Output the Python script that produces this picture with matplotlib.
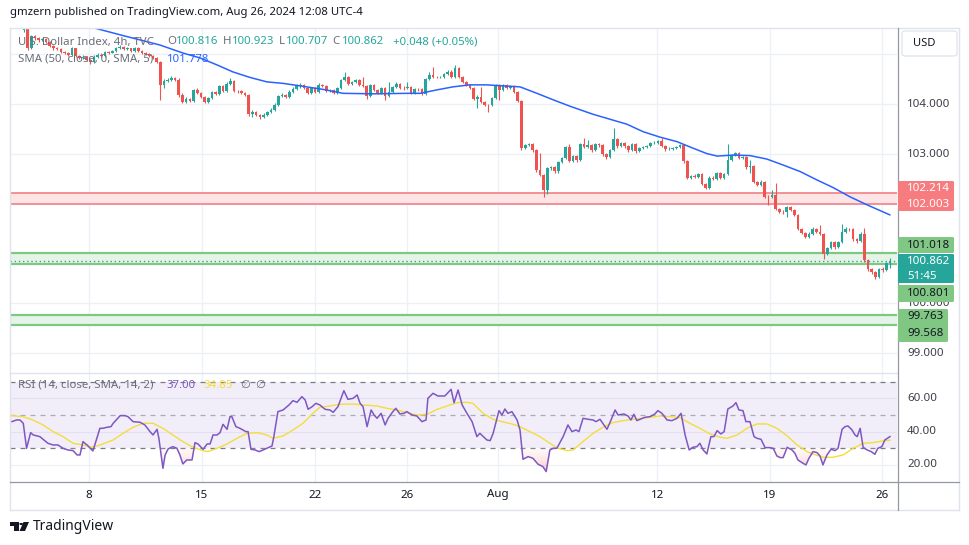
import numpy as np
import matplotlib
matplotlib.use("Agg")
import matplotlib.pyplot as plt
from matplotlib.patches import FancyBboxPatch, Polygon, Circle, Rectangle
from matplotlib.transforms import blended_transform_factory
from matplotlib.colors import LinearSegmentedColormap
from matplotlib.path import Path

W, H = 970, 545
plt.rcParams['font.family'] = ['Noto Sans', 'DejaVu Sans']

# ---------------- data ----------------
first_open = 105.49
closes = [
    105.53, 105.13, 105.37, 105.33, 105.29, 105.31, 105.25, 105.17, 105.13, 105.12, 105.05, 105.03,
    104.99, 105.13, 104.97, 104.93, 104.95, 104.89, 104.85, 104.95, 104.99, 104.97, 105.05, 105.04,
    105.07, 105.13, 105.15, 105.11, 105.13, 105.07, 105.13, 105.07, 105.03, 105.01, 104.97, 104.93,
    104.85, 104.39, 104.47, 104.49, 104.53, 104.49, 104.19, 104.05, 104.11, 104.07, 104.29, 104.23,
    104.15, 104.05, 104.13, 104.25, 104.21, 104.37, 104.27, 104.41, 104.47, 104.27, 104.26, 104.23,
    104.19, 103.81, 103.85, 103.79, 103.74, 103.79, 103.85, 103.89, 103.99, 104.17, 104.19, 104.15,
    104.25, 104.31, 104.37, 104.39, 104.33, 104.23, 104.33, 104.25, 104.39, 104.37, 104.27, 104.29,
    104.23, 104.33, 104.49, 104.55, 104.41, 104.45, 104.49, 104.39, 104.37, 104.17, 104.39, 104.29,
    104.23, 104.33, 104.17, 104.25, 104.35, 104.41, 104.33, 104.32, 104.35, 104.23, 104.31, 104.30,
    104.21, 104.51, 104.59, 104.55, 104.54, 104.55, 104.61, 104.65, 104.55, 104.73, 104.55, 104.45,
    104.39, 104.33, 104.11, 104.15, 104.05, 103.99, 103.98, 104.13, 104.39, 104.29, 104.39, 104.33,
    104.37, 104.25, 104.07, 103.12, 103.18, 103.20, 103.08, 102.68, 102.58, 102.28, 102.72, 102.74,
    102.66, 102.84, 102.92, 103.14, 102.86, 102.96, 102.88, 103.20, 103.14, 103.18, 103.08, 103.20,
    103.18, 103.00, 102.94, 103.08, 103.30, 103.16, 103.22, 103.16, 103.08, 103.20, 103.06, 103.12,
    103.14, 103.16, 103.22, 103.23, 103.26, 103.16, 103.10, 103.11, 103.12, 103.14, 103.18, 102.86,
    102.52, 102.56, 102.54, 102.60, 102.40, 102.32, 102.52, 102.50, 102.62, 102.52, 102.60, 102.88,
    102.98, 103.02, 102.92, 102.94, 102.74, 102.76, 102.44, 102.38, 102.44, 102.14, 102.13, 102.18,
    101.90, 101.84, 101.83, 101.94, 101.88, 101.78, 101.50, 101.42, 101.34, 101.40, 101.50, 101.44,
    101.40, 100.99, 101.11, 101.23, 101.13, 101.23, 101.44, 101.50, 101.49, 101.29, 101.25, 101.40,
    100.87, 100.69, 100.63, 100.53, 100.69, 100.67, 100.816, 100.862]
highs = [
    105.56, 105.55, 105.40, 105.39, 105.36, 105.34, 105.33, 105.27, 105.19, 105.15, 105.14, 105.08,
    105.05, 105.16, 105.14, 104.99, 104.98, 104.97, 104.91, 104.98, 105.03, 105.02, 105.08, 105.08,
    105.10, 105.16, 105.19, 105.17, 105.15, 105.14, 105.16, 105.15, 105.09, 105.05, 105.03, 104.99,
    104.95, 104.87, 104.50, 104.53, 104.57, 104.55, 104.52, 104.22, 104.14, 104.13, 104.31, 104.32,
    104.25, 104.17, 104.15, 104.27, 104.27, 104.39, 104.39, 104.44, 104.53, 104.49, 104.29, 104.28,
    104.25, 104.21, 103.88, 103.87, 103.81, 103.82, 103.87, 103.92, 104.02, 104.19, 104.23, 104.21,
    104.28, 104.34, 104.40, 104.43, 104.41, 104.35, 104.35, 104.35, 104.42, 104.41, 104.39, 104.31,
    104.31, 104.35, 104.51, 104.65, 104.57, 104.47, 104.51, 104.51, 104.55, 104.39, 104.41, 104.41,
    104.31, 104.35, 104.35, 104.45, 104.37, 104.44, 104.43, 104.36, 104.45, 104.37, 104.33, 104.33,
    104.32, 104.53, 104.65, 104.75, 104.57, 104.57, 104.63, 104.68, 104.69, 104.79, 104.75, 104.57,
    104.47, 104.41, 104.35, 104.18, 104.35, 104.07, 104.01, 104.15, 104.41, 104.41, 104.41, 104.41,
    104.39, 104.39, 104.27, 104.09, 103.21, 103.23, 103.22, 103.10, 103.02, 102.60, 102.74, 102.77,
    102.76, 102.86, 102.95, 103.16, 103.20, 102.99, 102.98, 103.23, 103.32, 103.28, 103.20, 103.22,
    103.23, 103.20, 103.02, 103.10, 103.52, 103.32, 103.25, 103.24, 103.18, 103.22, 103.22, 103.15,
    103.17, 103.18, 103.24, 103.26, 103.29, 103.32, 103.18, 103.14, 103.15, 103.17, 103.21, 103.20,
    102.88, 102.59, 102.60, 102.63, 102.62, 102.42, 102.55, 102.55, 102.65, 102.64, 102.63, 103.20,
    103.01, 103.05, 103.04, 102.97, 102.96, 102.88, 102.78, 102.46, 102.47, 102.46, 102.17, 102.28,
    102.42, 101.92, 101.87, 101.96, 101.96, 101.90, 101.80, 101.52, 101.44, 101.43, 101.53, 101.52,
    101.58, 101.42, 101.14, 101.26, 101.25, 101.26, 101.60, 101.53, 101.52, 101.51, 101.31, 101.43,
    101.52, 100.89, 100.71, 100.65, 100.72, 100.74, 100.84, 100.923]
lows = [
    105.46, 105.09, 105.11, 105.30, 105.26, 105.27, 105.23, 105.15, 105.10, 105.09, 105.03, 105.00,
    104.96, 104.97, 104.94, 104.90, 104.91, 104.86, 104.81, 104.83, 104.93, 104.94, 104.95, 105.01,
    105.02, 105.05, 105.11, 105.09, 105.09, 105.05, 105.05, 105.05, 105.01, 104.98, 104.95, 104.90,
    104.82, 104.09, 104.33, 104.44, 104.46, 104.46, 104.15, 104.02, 104.02, 104.04, 104.04, 104.21,
    104.12, 104.02, 104.03, 104.11, 104.18, 104.19, 104.25, 104.25, 104.39, 104.24, 104.23, 104.21,
    104.16, 103.76, 103.74, 103.76, 103.70, 103.72, 103.77, 103.83, 103.87, 103.97, 104.14, 104.12,
    104.13, 104.23, 104.29, 104.33, 104.31, 104.20, 104.21, 104.22, 104.23, 104.35, 104.25, 104.25,
    104.21, 104.21, 104.31, 104.47, 104.39, 104.39, 104.43, 104.37, 104.35, 104.11, 104.15, 104.27,
    104.21, 104.21, 104.09, 104.15, 104.23, 104.33, 104.31, 104.29, 104.30, 104.21, 104.21, 104.27,
    104.19, 104.19, 104.49, 104.53, 104.52, 104.53, 104.53, 104.59, 104.53, 104.53, 104.53, 104.43,
    104.37, 104.31, 104.08, 103.93, 104.03, 103.96, 103.85, 103.96, 104.11, 104.09, 104.27, 104.31,
    104.31, 104.23, 104.04, 103.09, 103.10, 103.16, 103.05, 102.65, 102.55, 102.14, 102.20, 102.69,
    102.63, 102.62, 102.82, 102.90, 102.84, 102.84, 102.85, 102.86, 103.12, 103.12, 103.05, 103.06,
    103.15, 102.97, 102.91, 102.92, 103.06, 103.13, 103.14, 103.13, 103.05, 103.06, 103.03, 103.04,
    103.10, 103.12, 103.14, 103.20, 103.21, 103.14, 103.07, 103.08, 103.09, 103.10, 103.12, 102.83,
    102.49, 102.49, 102.51, 102.52, 102.37, 102.29, 102.30, 102.47, 102.48, 102.49, 102.50, 102.58,
    102.86, 102.96, 102.90, 102.90, 102.71, 102.62, 102.41, 102.35, 102.36, 102.11, 101.98, 102.11,
    101.87, 101.81, 101.80, 101.74, 101.85, 101.75, 101.47, 101.39, 101.31, 101.32, 101.38, 101.41,
    101.37, 100.89, 100.97, 101.09, 101.10, 101.11, 101.21, 101.42, 101.46, 101.26, 101.22, 101.23,
    100.84, 100.66, 100.60, 100.50, 100.51, 100.64, 100.65, 100.707]

# SMA(50) read at sample bars
sma_idx = [17.1, 27.4, 36.9, 43.1, 47.8, 52.4, 56.7, 61.3, 65.9, 70.3, 74.9, 81.1, 86.6, 94.7,
           103.9, 107.5, 112.1, 116.4, 121.0, 125.6, 130.0, 134.6, 139.2, 143.6, 148.2, 154.4,
           159.0, 163.6, 168.0, 172.6, 177.2, 181.5, 185.3, 188.1, 192.4, 197.0, 201.6, 206.0,
           210.6, 215.2, 219.5, 224.2, 228.8, 235.0]
sma_val = [105.57, 105.37, 105.19, 105.03, 104.93, 104.79, 104.65, 104.54, 104.45, 104.42, 104.37,
           104.30, 104.22, 104.21, 104.22, 104.22, 104.29, 104.35, 104.39, 104.39, 104.37, 104.35,
           104.22, 104.09, 103.96, 103.80, 103.70, 103.60, 103.45, 103.34, 103.25, 103.12, 103.01,
           102.96, 102.98, 102.97, 102.90, 102.78, 102.65, 102.48, 102.33, 102.14, 101.98, 101.778]

# RSI(14) read at sample bars
rsi_idx = [-3.3, -2.0, -1.1, -0.2, 0.7, 1.8, 2.5, 4.3, 6.5, 7.9,
           9.2, 10.6, 11.9, 13.3, 14.4, 15.2, 16.0, 17.1, 18.7, 20.6,
           21.4, 22.5, 23.6, 24.2, 26.1, 27.4, 28.2, 29.6, 31.5, 32.8,
           34.2, 35.0, 36.1, 36.6, 37.7, 38.3, 39.1, 40.4, 41.5, 42.3,
           43.1, 44.2, 45.6, 46.4, 47.2, 48.6, 49.7, 50.5, 51.3, 52.4,
           53.2, 54.0, 55.1, 55.9, 56.4, 57.5, 58.6, 60.2, 60.8, 61.6,
           62.7, 63.8, 64.9, 66.5, 67.3, 67.8, 68.9, 70.3, 71.9, 73.0,
           74.1, 75.4, 76.3, 77.1, 78.2, 79.2, 80.3, 81.7, 83.0, 83.9,
           85.2, 86.8, 87.9, 89.3, 90.4, 91.2, 92.0, 93.1, 94.2, 95.0,
           95.8, 96.9, 98.0, 98.8, 100.1, 100.9, 102.0, 103.1, 103.9, 105.3,
           106.6, 108.0, 109.1, 109.6, 111.0, 112.3, 114.2, 115.9, 116.7, 117.8,
           118.9, 120.2, 121.6, 122.9, 123.7, 125.6, 126.5, 127.3, 128.9, 129.7,
           130.5, 131.3, 132.4, 133.8, 134.6, 135.4, 136.8, 138.1, 139.5, 140.8,
           141.7, 142.7, 143.6, 144.6, 146.3, 147.6, 148.7, 149.8, 150.6, 151.7,
           153.1, 154.4, 155.2, 156.3, 158.2, 159.3, 160.4, 161.2, 162.8, 163.9,
           164.7, 165.5, 166.3, 167.2, 168.5, 169.9, 171.2, 172.0, 173.1, 174.5,
           175.8, 177.2, 178.3, 179.4, 180.5, 181.5, 182.6, 183.4, 184.3, 185.3,
           186.4, 187.2, 188.1, 189.1, 190.0, 191.0, 192.4, 193.2, 194.0, 195.1,
           195.9, 197.0, 198.1, 198.9, 200.0, 201.1, 202.4, 203.3, 204.3, 205.2,
           206.0, 207.1, 208.4, 209.2, 210.0, 211.4, 212.2, 213.0, 214.1, 215.2,
           216.0, 216.8, 217.9, 219.0, 220.1, 220.9, 222.0, 222.8, 223.6, 224.7,
           225.5, 226.1, 226.9, 227.7, 228.8, 229.9, 230.9, 231.7, 232.8, 233.6,
           235.0]
rsi_val = [46, 47, 47, 45, 30, 39.4, 38, 37, 33, 32,
           32, 30, 29, 28.6, 26, 26, 34, 32, 28.4, 42,
           42, 42.6, 43, 45, 49.6, 49.6, 49, 46, 45.6, 44,
           40, 38, 41.4, 36, 18, 26, 29.6, 31, 30, 26,
           20.6, 23, 23, 33.4, 32.6, 29.4, 32.6, 32.6, 38, 38,
           39.4, 44.4, 41.4, 49, 49, 43, 42, 40, 40, 29.4,
           29, 28, 29, 30.6, 31.4, 37, 52, 53, 56, 58.6,
           57.6, 61, 59, 53.4, 55, 57, 56, 53.4, 53, 51.6,
           55, 64.6, 59.4, 60, 62, 57, 55, 43, 53, 50,
           48, 51, 44, 48, 52, 54, 50.6, 51, 52, 50,
           49.4, 46, 47, 60, 63, 61.4, 61.4, 65.4, 57.4, 65,
           56, 51, 46, 37, 39, 35, 34.6, 39, 52.6, 50,
           53.6, 51, 52, 47, 41, 23.4, 25, 24, 20.4, 19,
           16, 29, 30, 30, 37, 44, 40, 41, 40, 48,
           47.4, 47, 46, 47.4, 41.4, 47, 53, 50, 50.6, 49.4,
           47, 50.4, 46.6, 47.4, 48.6, 49, 50.6, 52.6, 51, 47,
           46.6, 48, 51, 38, 29, 30.6, 31, 33, 29, 26.6,
           37, 37, 40.6, 38.6, 40, 53.6, 55.4, 57.4, 53, 52.6,
           46, 46, 37, 36, 35.4, 30.4, 30.4, 30, 25.4, 24.4,
           24.4, 30.6, 29, 27, 23, 21, 20, 24, 28, 27.4,
           25.4, 20, 26, 29.4, 28.6, 30, 41.4, 43, 43.4, 41,
           38, 37, 42, 30.6, 29, 28, 26.4, 30, 31, 35,
           37.0]
# RSI-based MA(14)
rsima_idx = [-3.3, -0.3, 2.4, 5.2, 7.9, 10.6, 13.3, 16.0, 18.7, 21.4,
             24.2, 26.9, 29.6, 32.3, 35.0, 37.7, 40.4, 43.1, 45.9, 48.6,
             49.9, 52.4, 55.1, 57.8, 60.5, 63.2, 65.9, 67.6, 70.3, 73.0,
             75.7, 78.4, 80.3, 83.0, 85.8, 89.3, 92.0, 95.8, 98.5, 101.2,
             103.9, 106.6, 109.4, 112.1, 114.8, 117.5, 120.2, 121.8, 124.6, 127.3,
             129.7, 132.4, 134.6, 137.3, 140.0, 142.7, 144.9, 147.4, 149.0, 151.7,
             154.4, 157.1, 159.8, 162.6, 165.3, 169.9, 172.6, 175.3, 178.0, 180.7,
             183.4, 186.2, 188.9, 190.8, 193.5, 196.2, 198.9, 201.6, 204.3, 207.1,
             209.8, 212.5, 214.1, 216.8, 219.5, 222.3, 225.0, 227.7, 230.4, 233.1,
             235.0]
rsima_val = [49.6, 49, 47, 44, 40, 37, 33, 32, 30.6, 32.6,
             35, 39, 42.6, 45, 45, 42, 38, 34, 30.6, 28.6,
             28, 30, 32.6, 36, 39, 39.4, 38, 36, 37.4, 41,
             45, 51, 54.6, 55.4, 56.4, 56.6, 56, 55.4, 54, 53,
             51.4, 50, 50.4, 53.4, 55.4, 57.4, 57.6, 57, 51, 47.4,
             46, 44.6, 43, 40, 37, 33, 30, 28.6, 29, 34,
             39, 42.6, 45.4, 46.6, 47.4, 48.6, 49.4, 49, 48.4, 45,
             42, 38.6, 36.6, 36, 38, 42, 44.6, 44.6, 42, 37.4,
             32, 28, 26.6, 24.6, 24.6, 26, 30, 33, 33.4, 34.4,
             34.85]

date_ticks = [17.6, 48.3, 79.0, 103.9, 128.6, 171.8, 202.4, 232.8]
date_labels = ['8', '15', '22', '26', 'Aug', '12', '19', '26']
price_grid = [99, 100, 101, 102, 103, 104, 105]
price_labels = [104, 103, 100, 99]
rsi_labels = [60, 40, 20]
zone_red = (102.003, 102.214)
zone_green1 = (100.801, 101.018)
zone_green2 = (99.568, 99.763)
last_price = 100.862

# ---------------- styling ----------------
UP, DN = '#26A69A', '#EF5350'
GRID = '#EEF0F5'
TXT = '#131722'
AXT = '#3B3E48'
GREY = '#6A6D78'

fig = plt.figure(figsize=(W / 100, H / 100), dpi=100)
fig.patch.set_facecolor('white')


def rect(x0, y0, x1, y1):
    return [x0 / W, 1 - y1 / H, (x1 - x0) / W, (y1 - y0) / H]


def ptext(x, y, s, **kw):
    kw.setdefault('va', 'center')
    kw.setdefault('fontsize', 8)
    return fig.text(x / W, 1 - y / H, s, **kw)


def pbox(x0, y0, x1, y1, fc, ec='none', z=5, lw=0, r=0.002):
    p = FancyBboxPatch((x0 / W, 1 - y1 / H), (x1 - x0) / W, (y1 - y0) / H,
                       boxstyle=f'round,pad=0,rounding_size={r}', transform=fig.transFigure,
                       fc=fc, ec=ec, lw=lw, zorder=z)
    fig.add_artist(p)
    return p


def pline(x0, y0, x1, y1, color, lw=1, z=2):
    fig.add_artist(plt.Line2D([x0 / W, x1 / W], [1 - y0 / H, 1 - y1 / H], color=color, lw=lw,
                              transform=fig.transFigure, zorder=z))


ax = fig.add_axes(rect(10, 28, 897, 373))
ax2 = fig.add_axes(rect(10, 373, 897, 482))
XL = (-3.8, 236.9)
for a in (ax, ax2):
    a.set_xlim(*XL)
    a.axis('off')
ax.set_ylim(98.604, 105.532)
ax2.set_ylim(9.76, 75.2)

# grid
for p in price_grid:
    ax.axhline(p, color=GRID, lw=1, zorder=0)
for t in date_ticks:
    ax.axvline(t, color=GRID, lw=1, zorder=0)
    ax2.axvline(t, color=GRID, lw=1, zorder=0.5)

# zones
ax.axhspan(*zone_red, color='#FDE4E5', lw=0, zorder=1)
for v in zone_red:
    ax.axhline(v, color='#F28A8E', lw=1.3, zorder=1.5)
for z in (zone_green1, zone_green2):
    ax.axhspan(*z, color='#E6F4E7', lw=0, zorder=1)
    for v in z:
        ax.axhline(v, color='#81C784', lw=1.6, zorder=1.5)
ax.axhline(last_price, color=UP, lw=1, ls=(0, (1, 2)), zorder=1.6)

# candles
c = np.array(closes)
o = np.r_[first_open, c[:-1]]
hi = np.array(highs)
lo = np.array(lows)
idx = np.arange(len(c))
cols = np.where(c >= o, UP, DN)
ax.vlines(idx, lo, hi, colors=cols, lw=0.8, zorder=3)
ax.bar(idx, np.maximum(np.abs(c - o), 0.008), bottom=np.minimum(o, c), width=0.72,
       color=cols, linewidth=0, zorder=4)

# SMA
ax.plot(sma_idx, sma_val, color='#2962FF', lw=1.1, zorder=5, solid_capstyle='round')

# RSI panel
ax2.axhspan(30, 70, color='#F2EEF9', lw=0, zorder=0)
for v in (60, 40):
    ax2.axhline(v, color='#E4DFF2', lw=0.9, zorder=0.6)
ax2.axhline(20, color=GRID, lw=0.9, zorder=0.6)
ax2.axhline(70, color='#787B86', lw=0.9, ls=(0, (4, 4)), zorder=1)
ax2.axhline(30, color='#787B86', lw=0.9, ls=(0, (4, 4)), zorder=1)
ax2.axhline(50, color='#A9ACB5', lw=0.9, ls=(0, (4, 4)), zorder=1)

xx = np.linspace(rsi_idx[0], rsi_idx[-1], 3000)
yy = np.interp(xx, rsi_idx, rsi_val)
fb = ax2.fill_between(xx, yy, 30, where=yy < 30, color='none', lw=0)
paths = fb.get_paths()
if paths:
    cp = Path.make_compound_path(*paths)
    cmap = LinearSegmentedColormap.from_list('os', [(0.96, 0.45, 0.45, 0.55), (1, 0.85, 0.85, 0.15)])
    grad = np.linspace(0, 1, 200).reshape(-1, 1)
    im = ax2.imshow(grad, extent=[XL[0], XL[1], 12, 30], origin='lower', aspect='auto',
                    cmap=cmap, zorder=1.2, interpolation='bilinear')
    im.set_clip_path(cp, transform=ax2.transData)
    ax2.set_xlim(*XL)
    ax2.set_ylim(9.76, 75.2)

ax2.plot(rsima_idx, rsima_val, color='#F4DD3A', lw=1.0, zorder=2)
ax2.plot(rsi_idx, rsi_val, color='#7E57C2', lw=1.1, zorder=3)

# x labels
tr = blended_transform_factory(ax2.transData, ax2.transAxes)
for t, s in zip(date_ticks, date_labels):
    ax2.text(t, (482 - 495) / 109, s, transform=tr, ha='center', va='center', fontsize=8.3,
             color=TXT, clip_on=False)

# frame / separators
pline(10, 28, 959, 28, '#E0E3EB')
pline(10, 28, 10, 510, '#E0E3EB')
pline(959, 28, 959, 510, '#E0E3EB')
pline(10, 510, 959, 510, '#E0E3EB')
pline(10, 373, 897, 373, '#E0E3EB')
pline(10, 482, 959, 482, '#9598A1', lw=0.9, z=3)
pline(898, 28, 898, 510, '#9598A1', lw=0.9, z=3)

# right axis labels
def ypix_main(p):
    return H - ax.transData.transform((0, p))[1]


def ypix_rsi(v):
    return H - ax2.transData.transform((0, v))[1]


for p in price_labels:
    ptext(907, ypix_main(p), f'{p:.3f}', color=AXT, fontsize=8.3, zorder=4)
for v in rsi_labels:
    ptext(907, ypix_rsi(v), f'{v:.2f}', color=AXT, fontsize=8.3, zorder=4)

pbox(898, 181, 954, 211, '#F77C80')
ptext(907, 188.5, f'{zone_red[1]:.3f}', color='white', fontsize=8.3, zorder=6)
ptext(907, 204.5, f'{zone_red[0]:.3f}', color='white', fontsize=8.3, zorder=6)
pbox(898, 237, 954, 253, '#81C784')
ptext(907, 245.5, f'{zone_green1[1]:.3f}', color=TXT, fontsize=8.3, zorder=6)
pbox(898, 254, 954, 283, '#26A69A')
ptext(907, 262, f'{last_price:.3f}', color='white', fontsize=8.3, zorder=6)
ptext(907, 276.5, '51:45', color='white', fontsize=8.3, zorder=6)
pbox(898, 285, 954, 302, '#81C784')
ptext(907, 293.5, f'{zone_green1[0]:.3f}', color=TXT, fontsize=8.3, zorder=6)
pbox(898, 309, 948, 342, '#81C784')
ptext(907, 316.5, f'{zone_green2[1]:.3f}', color=TXT, fontsize=8.3, zorder=6)
ptext(907, 333, f'{zone_green2[0]:.3f}', color=TXT, fontsize=8.3, zorder=6)

pbox(902, 31, 957, 56, 'white', ec='#E0E3EB', lw=0.9, r=0.004)
ptext(913, 44, 'USD', color=TXT, fontsize=8, zorder=6)

# header and legends
ptext(10, 13, 'gmzern published on TradingView.com, Aug 26, 2024 12:08 UTC-4', color=TXT, fontsize=8.2)
ptext(18, 42, 'U.S. Dollar Index, 4h, TVC', color=GREY, fontsize=8.2, zorder=6)
for x, s, col in [(167, 'O', GREY), (176, '100.816', UP), (223, 'H', GREY), (232, '100.923', UP),
                  (279, 'L', GREY), (286, '100.707', UP), (332, 'C', GREY), (342, '100.862', UP),
                  (393, '+0.048 (+0.05%)', UP)]:
    ptext(x, 42, s, color=col, fontsize=8.2, zorder=6)
ptext(18, 59, 'SMA (50, close, 0, SMA, 5)', color=GREY, fontsize=8.2, zorder=6)
ptext(167, 59, '101.778', color='#2962FF', fontsize=8.2, zorder=6)
ptext(18, 385, 'RSI (14, close, SMA, 14, 2)', color=GREY, fontsize=8.2, zorder=6)
ptext(166, 385, '37.00', color='#7E57C2', fontsize=8.2, zorder=6)
ptext(203, 385, '34.85', color='#F4DD3A', fontsize=8.2, zorder=6)
ptext(240, 385, '\u2205', color=GREY, fontsize=8.2, zorder=6, family='DejaVu Sans')
ptext(255, 385, '\u2205', color=GREY, fontsize=8.2, zorder=6, family='DejaVu Sans')

# TradingView logo
def ppoly(pts, color):
    fig.add_artist(Polygon([(x / W, 1 - y / H) for x, y in pts], closed=True, fc=color, ec='none',
                           transform=fig.transFigure, zorder=6))


ppoly([(10, 522), (18.5, 522), (18.5, 531), (14.5, 531), (14.5, 526), (10, 526)], TXT)
fig.add_artist(Circle((21.2 / W, 1 - 524 / H), 1.9 / W, fc=TXT, ec='none', transform=fig.transFigure, zorder=6))
ppoly([(23.5, 522), (29, 522), (25, 531), (19.5, 531)], TXT)
ptext(33, 527, 'TradingView', color=TXT, fontsize=10)

fig.savefig('out.png', dpi=100, facecolor='white')
